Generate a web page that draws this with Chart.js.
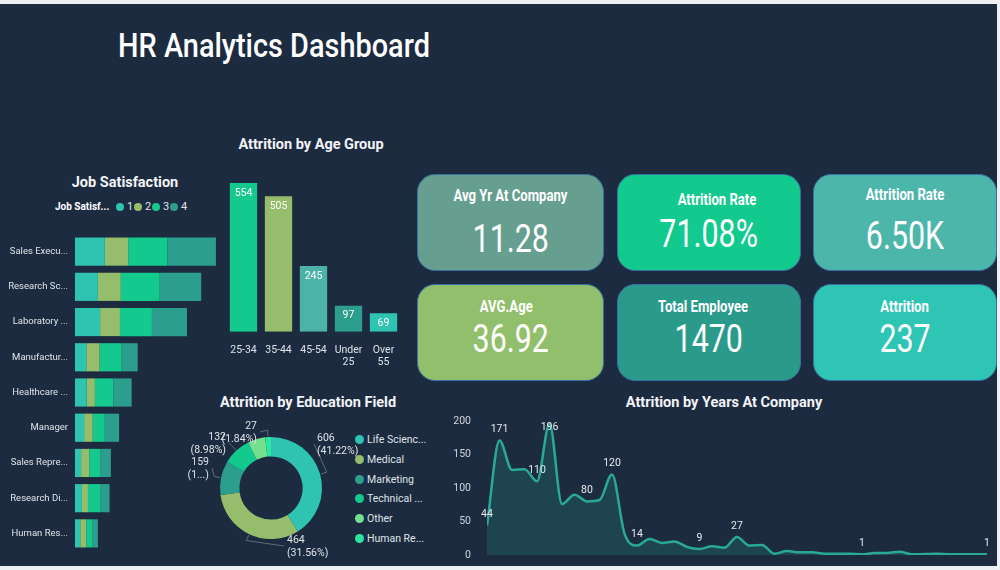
<!DOCTYPE html>
<html>
<head>
<meta charset="utf-8">
<title>HR Analytics Dashboard</title>
<script src="https://cdn.jsdelivr.net/npm/chart.js@4.4.1/dist/chart.umd.min.js"></script>
<style>
  html, body { margin: 0; padding: 0; }
  body { width: 1000px; height: 570px; background: #eef0f3; position: relative; overflow: hidden;
         font-family: Roboto, "Open Sans", sans-serif; color: #fff; }
  #board { position: absolute; left: 0; top: 4px; width: 997px; height: 562px; background: #1d2b40; }
  .abs { position: absolute; }
  canvas { position: absolute; }
  #mainTitle { left: 118px; top: 28px; font-size: 34px; line-height: 34px; font-weight: 500; white-space: nowrap;
               transform: scaleX(0.85); transform-origin: left center; }
  .chartTitle { font-weight: bold; font-size: 14.5px; line-height: 18px; text-align: center; white-space: nowrap; color: #f2f4f7; }
  .card { position: absolute; border-radius: 18px; border: 1.5px solid #3a6fa3; box-sizing: border-box; }
  .card .t, .card .v { position: absolute; left: 0; right: 0; text-align: center; white-space: nowrap; }
  .card .t { font-weight: bold; font-size: 16px; line-height: 18px; }
  .card .v { font-size: 38px; line-height: 40px; }
  .card .t span { display: inline-block; transform: scaleX(0.82); }
  .card .v span { display: inline-block; transform: scaleX(0.8); }
  .legendItem { position: absolute; font-size: 10.5px; color: #dfe3e8; white-space: nowrap; line-height: 14px; }
  .dot { display: inline-block; width: 9px; height: 9px; border-radius: 50%; vertical-align: -1px; margin-right: 3px; }
</style>
</head>
<body>
<div id="board"></div>
<div id="mainTitle" class="abs">HR Analytics Dashboard</div>

<div class="abs chartTitle" style="left:25px; top:174px; width:200px;">Job Satisfaction</div>
<div class="abs chartTitle" style="left:211px; top:136px; width:200px;">Attrition by Age Group</div>
<div class="abs chartTitle" style="left:188px; top:394px; width:240px;">Attrition by Education Field</div>
<div class="abs chartTitle" style="left:594px; top:394px; width:260px;">Attrition by Years At Company</div>

<div id="jobLegend"></div>
<div id="eduLegend"></div>
<div id="cards"></div>

<canvas id="jobChart" width="225" height="317" style="left:0; top:234px;"></canvas>
<canvas id="ageChart" width="175" height="211" style="left:226px; top:170px;"></canvas>
<canvas id="eduChart" width="182" height="140" style="left:180px; top:418px;"></canvas>
<canvas id="yearChart" width="560" height="150" style="left:440px; top:410px;"></canvas>

<script>
  // ---- data ----
  const jobRoles = ['Sales Execu...', 'Research Sc...', 'Laboratory ...', 'Manufactur...', 'Healthcare ...',
                    'Manager', 'Sales Repre...', 'Research Di...', 'Human Res...'];
  const satLevels = ['1', '2', '3', '4'];
  const sat1 = [69, 53, 58, 26, 27, 21, 14, 16, 12];
  const sat2 = [54, 53, 46, 31, 19, 20, 19, 14, 14];
  const sat3 = [91, 90, 74, 51, 43, 28, 25, 28, 15];
  const sat4 = [112, 96, 81, 37, 42, 33, 25, 22, 12];

  const ageGroups = ['25-34', '35-44', '45-54', ['Under', '25'], ['Over', '55']];
  const ageCounts = [554, 505, 245, 97, 69];

  const eduFields = ['Life Scienc...', 'Medical', 'Marketing', 'Technical ...', 'Other', 'Human Re...'];
  const eduCounts = [606, 464, 159, 132, 82, 27];

  const years = [0, 1, 2, 3, 4, 5, 6, 7, 8, 9, 10, 11, 12, 13, 14, 15, 16, 17, 18, 19, 20,
                 21, 22, 23, 24, 25, 26, 27, 29, 30, 31, 32, 33, 34, 36, 37, 40];
  const attritionByYears = [44, 171, 127, 128, 110, 196, 76, 90, 80, 82, 120, 32, 14, 24, 18, 20, 12, 9, 13, 11, 27,
                            14, 15, 2, 6, 4, 4, 2, 2, 1, 3, 3, 5, 1, 2, 1, 1];
  const labelledYears = [0, 1, 4, 5, 8, 10, 12, 17, 20, 30, 40];

  const cardTitles = ['Avg Yr At Company', 'Attrition Rate', 'Attrition Rate', 'AVG.Age', 'Total Employee', 'Attrition'];
  const cardValues = ['11.28', '71.08%', '6.50K', '36.92', '1470', '237'];

  // ---- styles ----
  const TEAL = '#2fc4b2', OLIVE = '#95bd6b', GREEN = '#14c98d', DARK_TEAL = '#2b9e8d', MUTED = '#4db3a8';
  const satColors = [TEAL, OLIVE, GREEN, DARK_TEAL];
  const ageColors = [GREEN, OLIVE, MUTED, DARK_TEAL, TEAL];
  const eduColors = [TEAL, OLIVE, DARK_TEAL, GREEN, '#72e08f', '#2be6a0'];
  const textColor = '#dfe3e8';

  Chart.defaults.font.family = 'Roboto, "Open Sans", sans-serif';

  // no extra padding from the first/last tick labels
  function noLabelPadding(s) {
    s.paddingTop = 0; s.paddingBottom = 0; s.paddingLeft = 0; s.paddingRight = 0;
  }

  // ---- KPI cards ----
  const cardBoxes = [
    { x: 417, y: 174, w: 187, h: 97, bg: '#669e8f', ty: 12, vy: 44, tx: 0 },
    { x: 617, y: 174, w: 184, h: 97, bg: '#12c98e', ty: 16, vy: 39, tx: 8 },
    { x: 813, y: 174, w: 184, h: 97, bg: '#4db6aa', ty: 11, vy: 41, tx: 0 },
    { x: 417, y: 284, w: 187, h: 97, bg: '#92bf6b', ty: 13, vy: 34, tx: -4 },
    { x: 617, y: 284, w: 184, h: 97, bg: '#2a9a8b', ty: 13, vy: 34, tx: -6 },
    { x: 813, y: 284, w: 184, h: 97, bg: '#2ec5b5', ty: 13, vy: 34, tx: 0 }
  ];
  const cardsEl = document.getElementById('cards');
  cardBoxes.forEach((b, i) => {
    const d = document.createElement('div');
    d.className = 'card';
    d.style.cssText = `left:${b.x}px;top:${b.y}px;width:${b.w}px;height:${b.h}px;background:${b.bg};`;
    d.innerHTML = `<div class="t" style="top:${b.ty}px;left:${b.tx}px;right:${-b.tx}px"><span>${cardTitles[i]}</span></div>` +
                  `<div class="v" style="top:${b.vy}px"><span>${cardValues[i]}</span></div>`;
    cardsEl.appendChild(d);
  });

  // ---- legends ----
  const jobLegend = document.getElementById('jobLegend');
  jobLegend.innerHTML = '<div class="legendItem" style="left:55px;top:200px;font-weight:bold;font-size:10px;color:#fff">Job Satisf...</div>';
  satLevels.forEach((s, i) => {
    jobLegend.innerHTML += `<div class="legendItem" style="left:${116 + i * 18}px;top:200px;font-size:11px">` +
      `<span class="dot" style="background:${satColors[i]};width:8px;height:8px"></span>${s}</div>`;
  });
  const eduLegend = document.getElementById('eduLegend');
  eduFields.forEach((f, i) => {
    eduLegend.innerHTML += `<div class="legendItem" style="left:355px;top:${433 + i * 19.8}px">` +
      `<span class="dot" style="background:${eduColors[i]}"></span>${f}</div>`;
  });

  // ---- Job satisfaction (stacked horizontal bars) ----
  const satData = [sat1, sat2, sat3, sat4];
  new Chart(document.getElementById('jobChart'), {
    type: 'bar',
    data: {
      labels: jobRoles,
      datasets: satData.map((d, i) => ({
        label: satLevels[i], data: d, backgroundColor: satColors[i],
        borderWidth: 0, categoryPercentage: 0.8, barPercentage: 1
      }))
    },
    options: {
      indexAxis: 'y',
      responsive: false,
      animation: false,
      layout: { padding: 0 },
      plugins: { legend: { display: false }, tooltip: { enabled: false } },
      scales: {
        x: { display: false, stacked: true, min: 0, max: 347 },
        y: {
          stacked: true,
          grid: { display: false, drawTicks: false },
          border: { display: false },
          ticks: { color: textColor, font: { size: 9.5 }, padding: 7 },
          afterFit(s) { s.width = 75; noLabelPadding(s); }
        }
      }
    }
  });

  // ---- Age group (vertical bars) ----
  const barTopLabels = {
    id: 'barTopLabels',
    afterDatasetsDraw(chart) {
      const ctx = chart.ctx;
      const meta = chart.getDatasetMeta(0);
      ctx.save();
      ctx.fillStyle = '#ffffff';
      ctx.font = '10.5px Roboto, sans-serif';
      ctx.textAlign = 'center';
      ctx.textBaseline = 'middle';
      meta.data.forEach((bar, i) => {
        ctx.fillText(chart.data.datasets[0].data[i], bar.x, bar.y + 10);
      });
      ctx.restore();
    }
  };
  new Chart(document.getElementById('ageChart'), {
    type: 'bar',
    data: {
      labels: ageGroups,
      datasets: [{ data: ageCounts, backgroundColor: ageColors, borderWidth: 0,
                   categoryPercentage: 0.78, barPercentage: 1 }]
    },
    options: {
      responsive: false,
      animation: false,
      layout: { padding: { top: 6, bottom: 0, left: 0, right: 0 } },
      plugins: { legend: { display: false }, tooltip: { enabled: false } },
      scales: {
        y: { display: false, min: 0, max: 580 },
        x: {
          grid: { display: false, drawTicks: false },
          border: { display: false },
          ticks: { color: textColor, font: { size: 10.5 }, padding: 12, maxRotation: 0, autoSkip: false },
          afterFit: noLabelPadding
        }
      }
    },
    plugins: [barTopLabels]
  });

  // ---- Education field (doughnut) ----
  // label placement relative to the doughnut centre, and how the text is shown
  const eduLabelPos = [
    { dx: 46, dy: -50, align: 'left', show: 'full' },
    { dx: 16, dy: 52, align: 'left', show: 'full' },
    { dx: -62, dy: -26, align: 'right', show: 'trunc' },
    { dx: -45, dy: -51, align: 'right', show: 'full' },
    { dx: 0, dy: 0, align: 'left', show: 'none' },
    { dx: -14, dy: -62, align: 'right', show: 'full' }
  ];
  const donutLabels = {
    id: 'donutLabels',
    afterDatasetsDraw(chart) {
      const ctx = chart.ctx;
      const meta = chart.getDatasetMeta(0);
      const data = chart.data.datasets[0].data;
      const total = data.reduce((a, b) => a + b, 0);
      ctx.save();
      ctx.font = '10.5px Roboto, sans-serif';
      ctx.textBaseline = 'middle';
      meta.data.forEach((arc, i) => {
        const p = eduLabelPos[i];
        if (p.show === 'none') return;
        const mid = (arc.startAngle + arc.endAngle) / 2;
        const r = arc.outerRadius;
        const sx = arc.x + Math.cos(mid) * (r + 1), sy = arc.y + Math.sin(mid) * (r + 1);
        const ex = arc.x + Math.cos(mid) * (r + 7), ey = arc.y + Math.sin(mid) * (r + 7);
        const tx = arc.x + p.dx, ty = arc.y + p.dy;
        const lx = p.align === 'left' ? tx - 3 : tx + 3;
        ctx.strokeStyle = '#5f6b7c';
        ctx.lineWidth = 1;
        ctx.beginPath();
        ctx.moveTo(sx, sy);
        ctx.lineTo(ex, ey);
        ctx.lineTo(lx, ty + 6);
        ctx.stroke();
        const pct = p.show === 'trunc' ? '(1...)' : '(' + (data[i] / total * 100).toFixed(2) + '%)';
        ctx.fillStyle = textColor;
        ctx.textAlign = p.align;
        ctx.fillText(String(data[i]), tx, ty);
        ctx.fillText(pct, tx, ty + 13);
      });
      ctx.restore();
    }
  };
  new Chart(document.getElementById('eduChart'), {
    type: 'doughnut',
    data: { labels: eduFields, datasets: [{ data: eduCounts, backgroundColor: eduColors, borderWidth: 0 }] },
    options: {
      responsive: false,
      animation: false,
      cutout: '62%',
      layout: { padding: 19 },
      plugins: { legend: { display: false }, tooltip: { enabled: false } }
    },
    plugins: [donutLabels]
  });

  // ---- Years at company (smoothed area) ----
  const pointLabels = {
    id: 'pointLabels',
    afterDatasetsDraw(chart) {
      const ctx = chart.ctx;
      const meta = chart.getDatasetMeta(0);
      ctx.save();
      ctx.fillStyle = '#e6e9ee';
      ctx.font = '10.5px Roboto, sans-serif';
      ctx.textAlign = 'center';
      ctx.textBaseline = 'middle';
      years.forEach((yr, i) => {
        if (!labelledYears.includes(yr)) return;
        const el = meta.data[i];
        const y = Math.max(el.y - 11, chart.chartArea.top + 6);
        ctx.fillText(attritionByYears[i], el.x, y);
      });
      ctx.restore();
    }
  };
  new Chart(document.getElementById('yearChart'), {
    type: 'line',
    data: {
      datasets: [{
        data: years.map((x, i) => ({ x: x, y: attritionByYears[i] })),
        borderColor: '#2aaa95',
        borderWidth: 2.5,
        backgroundColor: 'rgba(42,170,149,0.2)',
        fill: 'origin',
        pointRadius: 0,
        cubicInterpolationMode: 'monotone'
      }]
    },
    options: {
      responsive: false,
      animation: false,
      layout: { padding: { top: 11, right: 13, bottom: 5, left: 0 } },
      plugins: { legend: { display: false }, tooltip: { enabled: false } },
      scales: {
        x: { type: 'linear', min: 0, max: 40, display: false },
        y: {
          min: 0, max: 200,
          grid: { display: false, drawTicks: false },
          border: { display: false },
          ticks: { stepSize: 50, color: '#d0d4da', font: { size: 10.5 }, padding: 16 },
          afterFit(s) { s.width = 47; noLabelPadding(s); }
        }
      }
    },
    plugins: [pointLabels]
  });
</script>
</body>
</html>
